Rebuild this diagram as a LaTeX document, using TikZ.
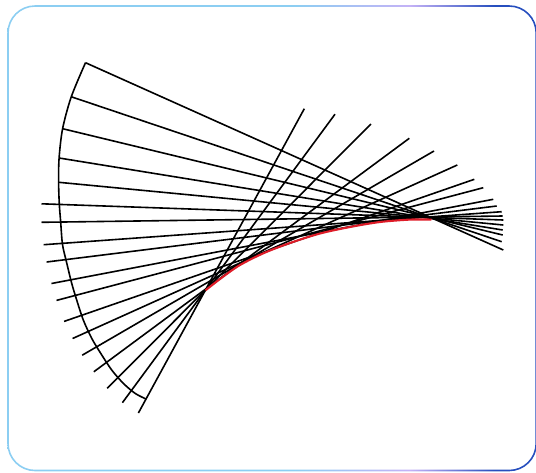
\documentclass[tikz,border=0pt]{standalone}
\usepackage{xcolor}
\usepackage{tikz}

\definecolor{frameA}{RGB}{140,206,242}
\definecolor{frameB}{RGB}{196,178,246}
\definecolor{frameC}{RGB}{38,78,190}
\definecolor{evored}{RGB}{222,28,40}
\pgfdeclarehorizontalshading{framefade}{100bp}{color(0bp)=(frameA); color(25bp)=(frameA); color(52bp)=(frameA); color(63bp)=(frameB); color(71bp)=(frameC); color(100bp)=(frameC)}

\begin{document}
\begin{tikzpicture}[x=1pt, y=-1pt,
  normalline/.style={line width=1.6pt, black},
  evolute/.style={line width=2.1pt, evored}]
\useasboundingbox (0,0) rectangle (536,472);
% frame
\shade[shading=framefade, even odd rule]
  [rounded corners=27.8pt] (7.2,5.2) rectangle (537,471.3)
  [rounded corners=26.2pt] (8.8,6.8) rectangle (535.4,469.7);
% normals
\draw[normalline] (85.5,62.7) -- (503.3,250);
\draw[normalline] (71.1,96.7) -- (501.7,241.7);
\draw[normalline] (62.6,128.7) -- (502.7,235);
\draw[normalline] (59.1,158) -- (502.7,230);
\draw[normalline] (58.8,182.3) -- (503.3,225);
\draw[normalline] (41.5,203.8) -- (503.3,220);
\draw[normalline] (41.5,222.3) -- (502.7,216);
\draw[normalline] (43.7,244.7) -- (501.7,211.7);
\draw[normalline] (46.6,262) -- (496.7,206);
\draw[normalline] (51.5,283.5) -- (493.3,199.3);
\draw[normalline] (56.5,300.4) -- (483.3,187.7);
\draw[normalline] (64.1,321.4) -- (474.3,179.3);
\draw[normalline] (72.6,338.5) -- (457.3,165);
\draw[normalline] (82.2,355.2) -- (434,151);
\draw[normalline] (93.8,371.8) -- (409.3,138.3);
\draw[normalline] (107.2,388.3) -- (371,124);
\draw[normalline] (122.4,402.7) -- (335,114.2);
\draw[normalline] (138.4,413) -- (304.3,108.7);
% arc
\draw[normalline] plot[smooth] coordinates {(85.5,62.7) (71.3,96.7) (62.6,128.7)
  (59.1,158) (58.6,182.3) (59.3,204) (60.7,222.3) (62.5,244.5) (66.5,262)
  (71.7,283.3) (76.7,300) (83.3,320) (91.7,338.3) (100.7,353.3) (111.7,370)
  (123.3,383.3) (135,393.3) (146,399)};
% evolute
\draw[evolute] plot[smooth] coordinates {(205.5,290.3) (222,277.5) (240,265)
  (264,253) (290,243) (320,233.5) (350,227) (380,222) (410,219.6) (431.5,219.6)};
\end{tikzpicture}
\end{document}
